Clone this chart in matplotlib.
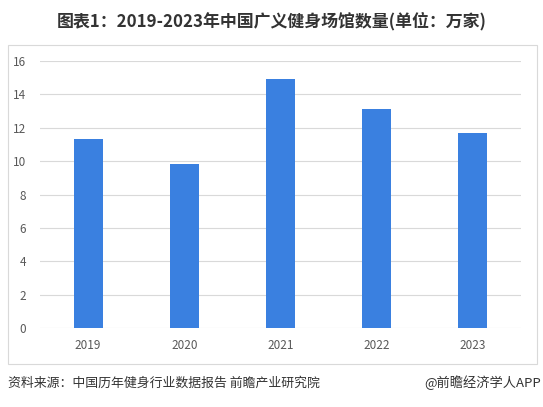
import matplotlib.pyplot as plt
from matplotlib.patches import Rectangle

plt.rcParams['font.family'] = ['Noto Sans CJK SC', 'DejaVu Sans']

years = ['2019', '2020', '2021', '2022', '2023']
gyms = [11.3, 9.8, 14.9, 13.1, 11.7]

fig = plt.figure(figsize=(5.43, 4.07), dpi=100)
W, H = 543, 407

# plot area in pixel terms: x 40..521, y 61(16)..328(0)
ax = fig.add_axes([40 / W, 1 - 328 / H, 481 / W, (328 - 61) / H])
ax.bar(range(len(years)), gyms, width=0.3, color='#3A80E0', zorder=3)
ax.set_xlim(-0.5, 4.5)
ax.set_ylim(0, 16)
ax.set_yticks(range(0, 17, 2))
ax.set_xticks(range(len(years)))
ax.set_xticklabels(years)
ax.grid(axis='y', color='#D9D9D9', linewidth=0.8, zorder=0)
for s in ax.spines.values():
    s.set_visible(False)
ax.tick_params(length=0, colors='#595959', labelsize=8.5)
ax.tick_params(axis='y', pad=10)
ax.tick_params(axis='x', pad=8)

# outer frame
fig.patches.append(Rectangle((8 / W, 1 - 364 / H), 529 / W, (364 - 45) / H,
                             transform=fig.transFigure, fill=False,
                             edgecolor='#D9D9D9', linewidth=0.8))

fig.text(0.5, 1 - 21 / H, '图表1：2019-2023年中国广义健身场馆数量(单位：万家)',
         ha='center', va='center', fontsize=12.2, fontweight='bold', color='#333333')
fig.text(8 / W, 1 - 383 / H, '资料来源：中国历年健身行业数据报告 前瞻产业研究院',
         ha='left', va='center', fontsize=9.3, color='#333333')
fig.text(541 / W, 1 - 383 / H, '@前瞻经济学人APP',
         ha='right', va='center', fontsize=9.5, color='#333333')

fig.savefig('out.png', dpi=100)
